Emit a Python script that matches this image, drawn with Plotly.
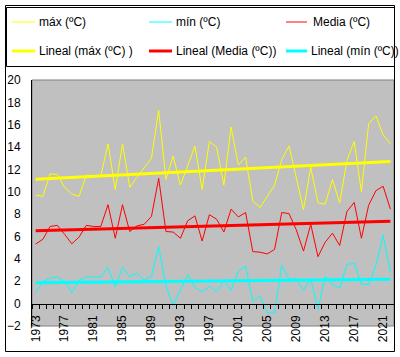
import numpy as np
import plotly.graph_objects as go

years = list(range(1973, 2023))

tmax = [9.7, 9.6, 11.6, 11.55, 10.4, 9.8, 9.6, 11.5, 11.4, 11.4,
        14.3, 10.2, 14.3, 10.4, 11.3, 12.1, 13.0, 17.3, 11.1, 13.2,
        10.6, 12.3, 14.1, 10.2, 14.5, 14.0, 10.6, 15.8, 12.4, 13.1,
        9.2, 8.6, 9.6, 10.6, 12.9, 14.1, 11.3, 8.4, 12.2, 9.0,
        8.9, 11.1, 9.0, 12.8, 14.5, 10.0, 16.1, 16.8, 15.1, 14.3]

tmed = [5.33, 5.75, 6.9, 7.0, 6.2, 5.35, 5.95, 7.0, 6.9, 6.9,
        8.85, 5.85, 8.85, 6.45, 6.95, 7.1, 7.8, 11.2, 6.45, 6.4,
        5.85, 7.4, 7.85, 5.6, 7.95, 7.55, 6.4, 8.45, 7.75, 8.15,
        4.65, 4.6, 4.45, 4.85, 8.15, 8.05, 6.6, 4.7, 7.1, 4.2,
        5.5, 6.3, 5.2, 8.25, 9.05, 5.85, 8.8, 10.1, 10.5, 8.45]

tmin = [1.0, 1.95, 2.3, 2.38, 1.95, 1.0, 2.1, 2.38, 2.38, 2.38,
        3.25, 1.5, 3.25, 2.4, 2.7, 2.1, 2.45, 5.1, 1.6, -0.15,
        1.2, 2.6, 1.45, 1.05, 1.55, 1.1, 2.05, 1.2, 2.9, 3.35,
        0.2, 0.7, -0.83, -0.83, 3.4, 2.2, 2.2, 1.2, 2.2, -0.5,
        2.45, 1.7, 1.4, 3.5, 3.6, 1.75, 1.7, 3.4, 6.1, 2.8]

tick_years = list(range(1973, 2022, 4))
tick_labels = [str(y) for y in tick_years]

YELLOW, CYAN, RED = "#FFFF00", "#00FFFF", "#FF0000"

W, H = 400, 357
ml, mr, mt, mb = 32, 6, 80, 31
pw, ph = W - ml - mr, H - mt - mb


def px(x):
    return (x - ml) / pw


def py(y):
    return (H - mb - y) / ph


def trend(vals):
    x = np.array(years, dtype=float)
    k, b = np.polyfit(x, np.array(vals, dtype=float), 1)
    return list(k * x + b)


fig = go.Figure()
for vals, col in [(tmax, YELLOW), (tmin, CYAN), (tmed, RED)]:
    fig.add_trace(go.Scatter(x=years, y=vals, mode="lines",
                             line=dict(color=col, width=1), showlegend=False,
                             hoverinfo="skip"))
for vals, col in [(tmax, YELLOW), (tmed, RED), (tmin, CYAN)]:
    fig.add_trace(go.Scatter(x=years, y=trend(vals), mode="lines",
                             line=dict(color=col, width=3), showlegend=False,
                             hoverinfo="skip"))

font = dict(family="Liberation Sans, Arial, sans-serif", size=12, color="black")

shapes = []
annotations = []
# plot area border (gray)
shapes.append(dict(type="rect", xref="paper", yref="paper", x0=0, x1=1, y0=0, y1=1,
                   line=dict(color="#808080", width=1), layer="below"))
# outer chart frame
shapes.append(dict(type="rect", xref="paper", yref="paper",
                   x0=px(5.5), x1=px(394.5), y0=py(351.5), y1=py(5.5),
                   line=dict(color="black", width=1)))
# legend frame
shapes.append(dict(type="rect", xref="paper", yref="paper",
                   x0=px(6.5), x1=px(394.5), y0=py(66.5), y1=py(7.5),
                   line=dict(color="black", width=1)))

legend_items = [
    ("máx (ºC)", YELLOW, 1, 12, 35, 38, 22),
    ("mín (ºC)", CYAN, 1, 149, 172, 175, 22),
    ("Media (ºC)", RED, 1, 286, 307, 312, 22),
    ("Lineal (máx (ºC) )", YELLOW, 3, 12, 35, 38, 51),
    ("Lineal (Media (ºC))", RED, 3, 149, 172, 175, 51),
    ("Lineal (mín (ºC))", CYAN, 3, 286, 307, 310, 51),
]
for txt, col, wd, lx0, lx1, tx, yy in legend_items:
    shapes.append(dict(type="line", xref="paper", yref="paper",
                       x0=px(lx0), x1=px(lx1), y0=py(yy), y1=py(yy),
                       line=dict(color=col, width=wd)))
    annotations.append(dict(xref="paper", yref="paper", x=px(tx), y=py(yy),
                            text=txt, showarrow=False, xanchor="left",
                            yanchor="middle", font=font, borderpad=0))

fig.update_layout(
    width=W, height=H,
    margin=dict(l=ml, r=mr, t=mt, b=mb, pad=0, autoexpand=False),
    paper_bgcolor="white",
    plot_bgcolor="#C0C0C0",
    font=font,
    showlegend=False,
    hovermode=False,
    shapes=shapes,
    annotations=annotations,
    xaxis=dict(
        range=[1972.5, 2022.5], showgrid=False, zeroline=False, automargin=False,
        tickmode="array", tickvals=tick_years, ticktext=tick_labels,
        tickangle=-90, ticks="", showline=True, linecolor="black", linewidth=1,
        anchor="free", position=2 / 22, tickfont=font, ticklabelstandoff=6,
        minor=dict(ticks="outside", tickmode="linear", tick0=1972.5, dtick=1,
                   ticklen=4, tickcolor="black", tickwidth=1, showgrid=False),
    ),
    yaxis=dict(
        range=[-2, 20], dtick=2, tick0=0, showgrid=False, zeroline=False,
        automargin=False,
        showline=True, linecolor="black", linewidth=1, ticks="",
        tickfont=font, ticklabelstandoff=8,
    ),
)

fig.write_html("out.html",
               config={"displayModeBar": False, "staticPlot": True},
               post_script="document.body.style.margin='0';"
                           "document.body.style.overflow='hidden';")
